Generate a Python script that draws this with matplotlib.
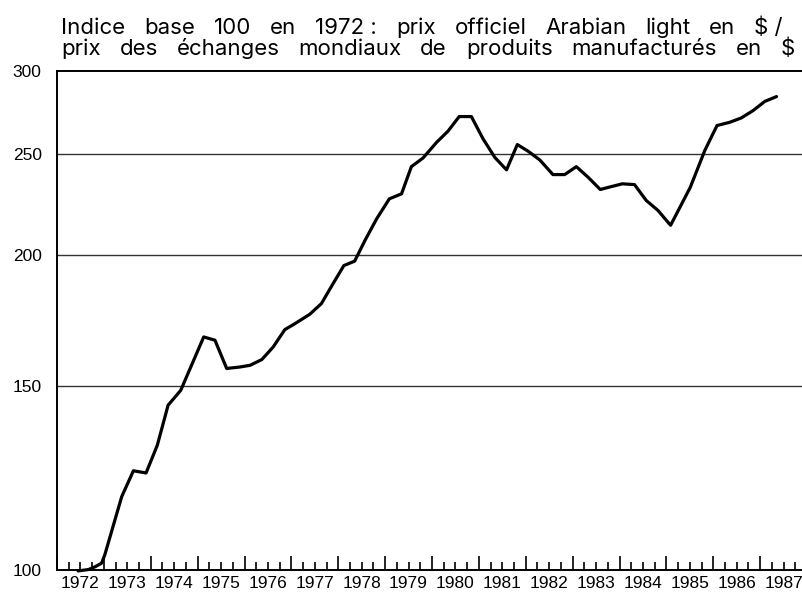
import matplotlib
matplotlib.use("Agg")
import matplotlib.pyplot as plt
from matplotlib.ticker import FixedLocator, FuncFormatter, NullLocator

# Indice base 100 en 1972 (points ~trimestriels)
years = [
    1972.45, 1972.67, 1972.81, 1972.95, 1973.02, 1973.38, 1973.63, 1973.90,
    1974.14, 1974.37, 1974.64, 1975.13, 1975.37, 1975.62, 1975.90, 1976.12,
    1976.37, 1976.61, 1976.86, 1977.08, 1977.39, 1977.64, 1977.89, 1978.12,
    1978.35, 1978.57, 1978.82, 1979.09, 1979.35, 1979.56, 1979.81, 1980.10,
    1980.34, 1980.58, 1980.84, 1981.09, 1981.34, 1981.59, 1981.82, 1982.05,
    1982.30, 1982.58, 1982.83, 1983.08, 1983.33, 1983.59, 1983.83, 1984.06,
    1984.32, 1984.57, 1984.82, 1985.09, 1985.51, 1985.82, 1986.08, 1986.35,
    1986.60, 1986.85, 1987.10, 1987.35,
]
index_values = [
    99.8, 100.1, 100.7, 101.5, 103.4, 117.5, 124.4, 123.8,
    131.6, 143.7, 148.5, 167.0, 165.8, 155.8, 156.3, 156.9,
    158.9, 163.3, 169.7, 172.0, 175.5, 179.7, 187.8, 195.4,
    197.3, 206.5, 216.6, 226.3, 228.8, 242.9, 247.6, 256.3,
    262.6, 271.2, 271.2, 258.2, 247.9, 241.2, 255.0, 251.3,
    246.5, 238.7, 238.7, 242.9, 237.3, 231.0, 232.5, 233.9,
    233.5, 225.5, 220.6, 213.5, 232.1, 251.7, 265.9, 267.8,
    270.4, 274.8, 280.4, 283.4,
]

y_ticks = [100, 150, 200, 250, 300]
year_labels = list(range(1972, 1988))

title_1 = ["Indice", "base", "100", "en", "1972 :", "prix", "officiel",
           "Arabian", "light", "en", "$ /"]
title_2 = ["prix", "des", "échanges", "mondiaux", "de", "produits",
           "manufacturés", "en", "$"]

plt.rcParams["font.family"] = ["Liberation Sans", "DejaVu Sans"]

W, H = 803, 594
fig = plt.figure(figsize=(W / 100, H / 100), dpi=100)
ax = fig.add_axes([57 / W, 24 / H, 750 / W, 499.3 / H])

ax.plot(years, index_values, color="black", linewidth=2.3,
        solid_joinstyle="round", solid_capstyle="round", clip_on=False)

ax.set_yscale("log")
ax.set_ylim(100, 300)
ax.set_xlim(1972, 1988)

# y axis: labels only, horizontal rules
ax.yaxis.set_major_locator(FixedLocator(y_ticks))
ax.yaxis.set_minor_locator(NullLocator())
ax.yaxis.set_major_formatter(FuncFormatter(lambda v, p: f"{v:.0f}"))
ax.tick_params(axis="y", length=0, pad=11, labelsize=12.5)
for v in y_ticks[1:-1]:
    ax.axhline(v, color="#333333", linewidth=1.0, zorder=1)

# x axis: tall ticks at year boundaries, short at quarters, label mid-year
ax.xaxis.set_major_locator(FixedLocator(year_labels + [1988]))
ax.xaxis.set_major_formatter(FuncFormatter(lambda v, p: ""))
quarters = [y + q / 4 for y in year_labels for q in (1, 2, 3)]
ax.xaxis.set_minor_locator(FixedLocator(quarters))
ax.xaxis.set_minor_formatter(
    FuncFormatter(lambda v, p: f"{int(v)}" if abs(v - int(v) - 0.5) < 0.01 else ""))
ax.tick_params(axis="x", which="major", direction="in", length=10.3, width=1.2, color="black")
ax.tick_params(axis="x", which="minor", direction="in", length=5.5, width=1.2, color="black",
               pad=4, labelsize=12.5)

for side in ("left", "bottom", "top"):
    ax.spines[side].set_linewidth(1.4)
    ax.spines[side].set_color("black")
ax.spines["right"].set_visible(False)


def spread_line(words, x0, x1, baseline, size=16):
    # title in the original is set with wide word spacing: justify words between x0 and x1
    renderer = fig.canvas.get_renderer()
    texts = [fig.text(0, 1 - baseline / H, w, fontsize=size, va="baseline", ha="left",
                      family=["Inter", "DejaVu Sans"])
             for w in words]
    widths = [t.get_window_extent(renderer).width for t in texts]
    gap = (x1 - x0 - sum(widths)) / (len(words) - 1)
    x = x0
    for t, w in zip(texts, widths):
        t.set_x(x / W)
        x += w + gap


spread_line(title_1, 61, 783, 33.5)
spread_line(title_2, 61, 795, 55)

fig.savefig("out.png", dpi=100)
